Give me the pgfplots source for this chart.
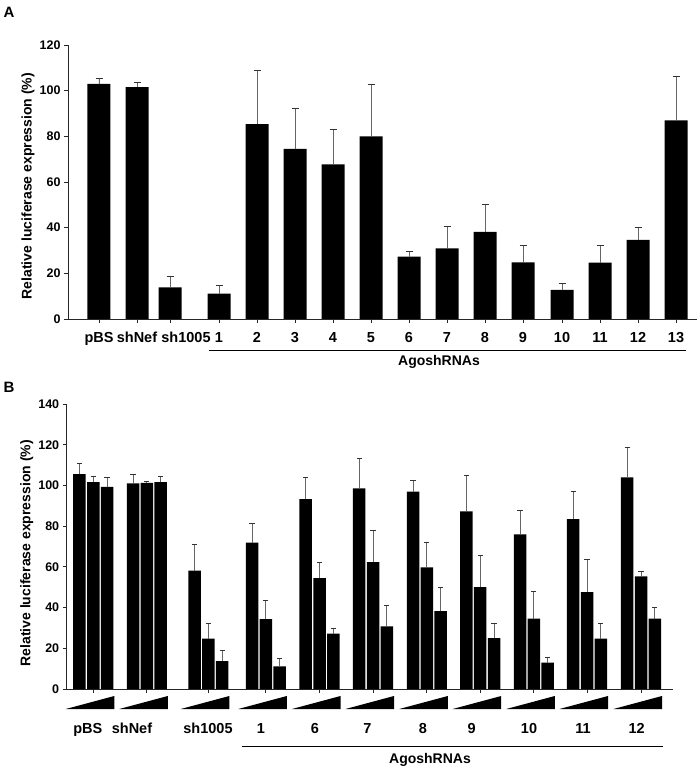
\documentclass[border=0pt]{standalone}
\usepackage{fontspec}
\setmainfont{Liberation Sans}
\usepackage{pgfplots}
\usepackage{pgfplotstable}
\pgfplotsset{compat=1.18}

% Panel A: x = bar position, y = mean (%), e = upper error
\pgfplotstableread{
x y e
99 103.0 2.4
137 101.5 2.3
170 13.9 4.9
219 11.1 3.6
257 85.3 23.4
295 74.5 17.8
333 67.7 15.5
371 80.0 22.9
409 27.3 2.3
447 30.9 9.7
485 38.2 11.9
523 24.8 7.3
562 12.8 2.8
600 24.7 7.4
638 34.6 5.4
676 87.0 19.4
}\dataA

% Panel B: three increasing doses per construct
\pgfplotstableread{
x y1 e1 y2 e2 y3 e3
93.3 105.5 5.2 101.6 3.0 99.3 4.6
146.8 101.0 4.2 101.3 0.5 101.6 3.0
208.3 58.1 13.0 24.8 7.3 13.7 5.1
265.8 71.9 9.3 34.3 9.3 11.1 3.7
319.5 93.3 10.6 54.5 7.5 27.2 2.5
373.0 98.5 14.9 62.3 15.8 30.8 10.0
426.8 96.9 5.5 59.7 12.1 38.2 11.9
480.2 87.3 17.6 50.1 15.3 25.0 7.3
533.8 75.9 12.0 34.6 13.4 12.9 2.8
587.0 83.5 13.7 47.6 16.2 24.8 7.3
641.0 103.9 15.0 55.3 2.6 34.6 5.4
}\dataB

\begin{document}
\begin{tikzpicture}
\useasboundingbox (0pt,0pt) rectangle (700pt,772pt);
\pgfplotsset{
  common/.style={
    scale only axis,
    axis x line*=bottom, axis y line*=left,
    axis line style={line width=0.9pt, black!85},
    tick style={line width=0.9pt, black!85},
    tick align=outside, major tick length=4pt,
    yticklabel style={font=\bfseries\fontsize{12.5}{14}\selectfont},
    xticklabel style={font=\bfseries\fontsize{14.5}{16}\selectfont},
    /pgf/number format/assume math mode=true,
    ylabel={Relative luciferase expression (\%)},
    ylabel style={font=\bfseries\fontsize{14}{16}\selectfont, anchor=center},
    ybar,
    error bars/y dir=plus, error bars/y explicit,
    error bars/error bar style={line width=0.9pt, black!60},
  },
}
\begin{axis}[common,
  at={(68pt,453pt)}, anchor=south west,
  width=629pt, height=274pt,
  xmin=68, xmax=697, ymin=0, ymax=120,
  ytick={0,20,...,120},
  xtick=data,
  xticklabels={pBS,shNef,\hspace*{32pt}sh1005,1,2,3,4,5,6,7,8,9,10,11,12,13},
  xticklabel style={anchor=base, yshift=-19.3pt},
  bar width=23pt,
  ylabel style={at={(axis description cs:-0.0636,0.485)}},
  error bars/error mark options={rotate=90, line width=0.9pt, black!80, mark size=3.5pt},
]
\addplot[fill=black, draw=none] table[x=x, y=y, y error plus=e] {\dataA};
\end{axis}

\begin{axis}[common,
  at={(66.7pt,83pt)}, anchor=south west,
  width=606.3pt, height=285pt,
  xmin=66.7, xmax=673, ymin=0, ymax=140,
  ytick={0,20,...,140},
  xtick=data, xticklabels={},
  extra x ticks={87.8,132,208,261,315,367.5,422.8,471.7,529,583,636.7},
  extra x tick labels={pBS,shNef,sh1005,1,6,7,8,9,10,11,12},
  extra x tick style={major tick length=0pt, xticklabel style={anchor=base, yshift=-44.5pt}},
  ybar=1.3pt, bar width=12.5pt,
  clip=false,
  ylabel style={at={(axis description cs:-0.066,0.476)}},
  error bars/error mark options={rotate=90, line width=0.9pt, black!80, mark size=2.6pt},
]
\addplot[fill=black, draw=none] table[x=x, y=y1, y error plus=e1] {\dataB};
\addplot[fill=black, draw=none] table[x=x, y=y2, y error plus=e2] {\dataB};
\addplot[fill=black, draw=none] table[x=x, y=y3, y error plus=e3] {\dataB};
\pgfplotsinvokeforeach{93.3,146.8,208.3,265.8,319.5,373.0,426.8,480.2,533.8,587.0,641.0}{
  \fill[black] (axis cs:#1,0) ++(-27.5pt,-20pt) -- ++(48.5pt,0pt) -- ++(0pt,13pt) -- cycle;
}
\end{axis}

\node[font=\bfseries\fontsize{15}{17}\selectfont] at (9pt,760pt) {A};
\node[font=\bfseries\fontsize{15}{17}\selectfont] at (9pt,385pt) {B};
\draw[line width=0.9pt] (208.7pt,422pt) -- (686pt,422pt);
\node[font=\bfseries\fontsize{14}{16}\selectfont] at (439pt,409.7pt) {AgoshRNAs};
\draw[line width=0.9pt] (241.7pt,26pt) -- (663pt,26pt);
\node[font=\bfseries\fontsize{14}{16}\selectfont] at (430pt,12pt) {AgoshRNAs};
\end{tikzpicture}
\end{document}
